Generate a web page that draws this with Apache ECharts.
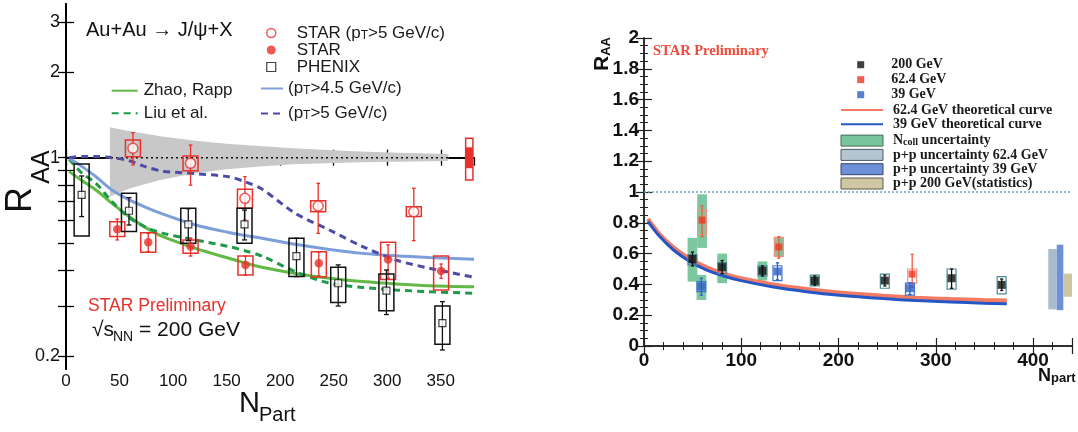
<!DOCTYPE html>
<html>
<head>
<meta charset="utf-8">
<title>J/psi R_AA vs N_part</title>
<script src="https://cdn.jsdelivr.net/npm/echarts@6/dist/echarts.min.js"></script>
<style>
  html, body { margin: 0; padding: 0; background: #fff; }
  #chart { width: 1078px; height: 432px; }
</style>
</head>
<body>
<div id="chart"></div>
<script type="text/javascript">

// ---- left panel: Au+Au 200 GeV, log scale in R_AA ----
var raaTicks = [0.2, 0.3, 0.4, 0.5, 0.6, 0.7, 0.8, 0.9, 1, 2, 3];
var raaLabels = [0.2, 1, 2, 3];

var bandN  = [41, 60, 88, 119, 150, 181, 212, 244, 275, 310, 357];
var bandHi = [1.28, 1.24, 1.19, 1.15, 1.12, 1.10, 1.08, 1.065, 1.052, 1.04, 1.03];
var bandLo = [0.73, 0.78, 0.835, 0.88, 0.91, 0.93, 0.948, 0.956, 0.963, 0.968, 0.973];

var unityN = [0, 381];
var unityR = [1, 1];

var curveN       = [3, 15, 28, 43, 59, 74, 90, 121, 152, 167, 183, 214, 246, 277, 308, 339, 381];
var zhaoRapp     = [0.893, 0.83, 0.769, 0.69, 0.62, 0.568, 0.528, 0.479, 0.442, 0.426, 0.411, 0.391, 0.376, 0.366, 0.359, 0.354, 0.351];
var liuEtAl      = [0.987, 0.881, 0.812, 0.70, 0.615, 0.57, 0.542, 0.513, 0.486, 0.47, 0.45, 0.397, 0.361, 0.349, 0.342, 0.337, 0.333];
var highPt45     = [0.995, 0.93, 0.857, 0.769, 0.71, 0.67, 0.634, 0.579, 0.545, 0.532, 0.52, 0.495, 0.475, 0.46, 0.451, 0.445, 0.439];
var highPt5      = [1.0, 1.01, 1.01, 1.0, 0.975, 0.93, 0.897, 0.878, 0.857, 0.823, 0.775, 0.637, 0.556, 0.486, 0.436, 0.408, 0.379];

var starHiN     = [62.5, 116.3, 167.1, 235.5, 324.8];
var starHiR     = [1.079, 0.955, 0.719, 0.675, 0.645];
var starHiErrLo = [0.943, 0.80, 0.603, 0.541, 0.51];
var starHiErrHi = [1.225, 1.108, 0.857, 0.812, 0.78];
var starHiSysLo = [1.008, 0.90, 0.663, 0.645, 0.62];
var starHiSysHi = [1.154, 1.014, 0.774, 0.705, 0.672];

var starN     = [47.9, 76.8, 116.3, 167.6, 236.1, 300.8, 350.3];
var starR     = [0.56, 0.503, 0.486, 0.419, 0.425, 0.438, 0.399];
var starErrLo = [0.513, 0.466, 0.45, 0.386, 0.383, 0.376, 0.376];
var starErrHi = [0.608, 0.541, 0.52, 0.45, 0.466, 0.493, 0.422];
var starSysLo = [0.527, 0.464, 0.46, 0.386, 0.38, 0.372, 0.342];
var starSysHi = [0.595, 0.544, 0.513, 0.45, 0.466, 0.503, 0.45];

var phenixN     = [14.6, 58.8, 114.2, 166.7, 215.2, 254.2, 299.2, 351.5];
var phenixR     = [0.739, 0.65, 0.582, 0.582, 0.45, 0.361, 0.34, 0.261];
var phenixErrLo = [0.62, 0.579, 0.51, 0.513, 0.381, 0.30, 0.28, 0.21];
var phenixErrHi = [0.862, 0.723, 0.661, 0.654, 0.52, 0.419, 0.402, 0.311];
var phenixSysLo = [0.53, 0.549, 0.499, 0.499, 0.381, 0.309, 0.289, 0.22];
var phenixSysHi = [0.95, 0.749, 0.663, 0.663, 0.52, 0.411, 0.389, 0.30];

// global normalisation box at the right edge
var globN = [376.6];
var globInnerLo = [0.918], globInnerHi = [1.088];
var globOuterLo = [0.834], globOuterHi = [1.17];

// ---- right panel: 200 / 62.4 / 39 GeV, linear ----
var rUnityN = [0, 440];
var rUnityR = [1, 1];

var thN    = [4, 16, 30, 47, 64, 81, 98.5, 133, 167, 201, 246, 280, 315, 349, 373];
var th62   = [0.825, 0.727, 0.642, 0.567, 0.512, 0.472, 0.442, 0.40, 0.37, 0.347, 0.326, 0.314, 0.305, 0.298, 0.295];
var th39   = [0.81, 0.712, 0.625, 0.549, 0.495, 0.456, 0.426, 0.383, 0.353, 0.330, 0.308, 0.295, 0.286, 0.278, 0.274];

var n200     = [49.8, 80.3, 121.8, 175.6, 247.6, 316.2, 367.7];
var r200     = [0.565, 0.512, 0.488, 0.423, 0.425, 0.44, 0.397];
var err200Lo = [0.52, 0.47, 0.455, 0.395, 0.39, 0.375, 0.36];
var err200Hi = [0.61, 0.555, 0.52, 0.455, 0.46, 0.50, 0.435];
var sys200Lo = [0.527, 0.469, 0.455, 0.39, 0.375, 0.369, 0.338];
var sys200Hi = [0.593, 0.542, 0.52, 0.46, 0.467, 0.50, 0.451];

var n62     = [59.7, 138.6, 275.7];
var r62     = [0.817, 0.643, 0.467];
var err62Lo = [0.71, 0.57, 0.38];
var err62Hi = [0.91, 0.71, 0.595];
var sys62Lo = [0.724, 0.582, 0.408];
var sys62Hi = [0.882, 0.706, 0.50];

var n39     = [59, 137.2, 273.4];
var r39     = [0.386, 0.484, 0.375];
var err39Lo = [0.33, 0.43, 0.335];
var err39Hi = [0.44, 0.54, 0.41];
var sys39Lo = [0.353, 0.425, 0.331];
var sys39Hi = [0.418, 0.521, 0.408];

var ncollN  = [49.8, 59.7, 59, 80.3, 121.8, 138.6, 175.6];
var ncollLo = [0.418, 0.637, 0.299, 0.408, 0.425, 0.58, 0.395];
var ncollHi = [0.702, 0.985, 0.462, 0.60, 0.549, 0.706, 0.455];

var pp62N = [415.6, 424.3], pp62R = [0.238, 0.63];
var pp39N = [424.3, 431.1], pp39R = [0.233, 0.658];
var pp200N = [431.1, 440], pp200R = [0.32, 0.47];

// ---- helpers ----
var SANS = '"Liberation Sans", Arial, sans-serif';
var SERIF = '"Liberation Serif", "Times New Roman", serif';
var RED = '#e8302a';
var NOSYM = { color: 'rgba(0,0,0,0)', borderWidth: 0 };   // hides the dot that line legends draw

function lg(v) { return Math.log10(v); }
function same(v) { return v; }

function pts(nArr, rArr, f) {
  return nArr.map(function (n, i) { return [n, f(rArr[i])]; });
}
function errRows(nArr, r, eLo, eHi, sLo, sHi, f) {
  return nArr.map(function (n, i) {
    return [n, f(r[i]), f(eLo[i]), f(eHi[i]), f(sLo[i]), f(sHi[i])];
  });
}

function errBoxRender(halfW, boxColor, barColor, boxW, capPx) {
  return function (params, api) {
    var n = api.value(0);
    var c = api.coord([n, api.value(1)]);
    var lo = api.coord([n, api.value(2)]);
    var hi = api.coord([n, api.value(3)]);
    var b0 = api.coord([n - halfW, api.value(5)]);
    var b1 = api.coord([n + halfW, api.value(4)]);
    var bar = { stroke: barColor, lineWidth: 1.3 };
    return {
      type: 'group',
      children: [
        { type: 'rect', shape: { x: b0[0], y: b0[1], width: b1[0] - b0[0], height: b1[1] - b0[1] },
          style: { fill: 'none', stroke: boxColor, lineWidth: boxW } },
        { type: 'line', shape: { x1: c[0], y1: hi[1], x2: c[0], y2: lo[1] }, style: bar },
        { type: 'line', shape: { x1: c[0] - capPx, y1: hi[1], x2: c[0] + capPx, y2: hi[1] }, style: bar },
        { type: 'line', shape: { x1: c[0] - capPx, y1: lo[1], x2: c[0] + capPx, y2: lo[1] }, style: bar }
      ]
    };
  };
}

function rectRender(fill, stroke) {
  return function (params, api) {
    var p0 = api.coord([api.value(0), api.value(3)]);
    var p1 = api.coord([api.value(1), api.value(2)]);
    return {
      type: 'rect',
      shape: { x: p0[0], y: p0[1], width: p1[0] - p0[0], height: p1[1] - p0[1] },
      style: { fill: fill, stroke: stroke || 'none', lineWidth: stroke ? 1 : 0 }
    };
  };
}

function fmtName(name) {
  return name.replace('p_T', 'p{t|T}').replace('N_coll', 'N{c|coll}');
}

function label(txt, x, y, size, extra) {
  var st = { text: txt, fontFamily: SANS, fontSize: size, fill: '#111', verticalAlign: 'middle' };
  for (var k in (extra || {})) st[k] = extra[k];
  return { type: 'text', x: x, y: y, silent: true, style: st };
}

var chart = echarts.init(document.getElementById('chart'));

var frameL = { show: true, lineStyle: { color: '#000', width: 2 } };
var frameR = { show: true, lineStyle: { color: '#222', width: 1.5 } };
var tickL = { show: true, inside: true, length: 8, lineStyle: { color: '#000', width: 1.3 } };
var tickR = { show: true, inside: true, length: 8, lineStyle: { color: '#222', width: 1.2 } };
var logTicks = raaTicks.map(lg);
var logLabels = raaLabels.map(lg);
var subT = { fontFamily: SANS, fontSize: 12, lineHeight: 7, padding: [10, 0, 0, 0], verticalAlign: 'bottom', color: '#1a1a1a' };

var option = {
  animation: false,
  backgroundColor: '#fff',
  grid: [
    { left: 66, top: 4, width: 408, height: 365, outerBoundsMode: 'none' },
    { left: 644, top: 38, width: 428, height: 308, outerBoundsMode: 'none' }
  ],
  xAxis: [
    { gridIndex: 0, type: 'value', min: 0, max: 381, interval: 50, position: 'bottom',
      axisLine: frameL, axisTick: tickL, splitLine: { show: false },
      axisLabel: { fontFamily: SANS, fontSize: 17, color: '#111', margin: 4, showMaxLabel: false } },
    { gridIndex: 0, type: 'value', min: 0, max: 381, interval: 50, position: 'top',
      axisLine: frameL, axisTick: tickL, splitLine: { show: false }, axisLabel: { show: false } },
    { gridIndex: 1, type: 'value', min: 0, max: 440, interval: 100, position: 'bottom',
      axisLine: frameR, axisTick: tickR, splitLine: { show: false },
      minorTick: { show: true, splitNumber: 5, length: 4, lineStyle: { color: '#222', width: 1 } },
      axisLabel: { fontFamily: SANS, fontWeight: 'bold', fontSize: 19, color: '#111', margin: 5, showMaxLabel: false } },
    { gridIndex: 1, type: 'value', min: 0, max: 440, interval: 100, position: 'top',
      axisLine: frameR, axisTick: tickR, splitLine: { show: false },
      minorTick: { show: true, splitNumber: 5, length: 4, lineStyle: { color: '#222', width: 1 } },
      axisLabel: { show: false } }
  ],
  yAxis: [
    { gridIndex: 0, type: 'value', min: lg(0.18), max: lg(3.48), position: 'left',
      axisLine: frameL, splitLine: { show: false },
      axisTick: { show: true, inside: true, length: 8, lineStyle: { color: '#000', width: 1.3 }, customValues: logTicks },
      axisLabel: { fontFamily: SANS, fontSize: 18, color: '#111', margin: 6, customValues: logLabels,
        formatter: function (v) { return String(Math.round(Math.pow(10, v) * 10) / 10); } } },
    { gridIndex: 0, type: 'value', min: lg(0.18), max: lg(3.48), position: 'right',
      axisLine: frameL, splitLine: { show: false }, axisLabel: { show: false },
      axisTick: { show: true, inside: true, length: 8, lineStyle: { color: '#000', width: 1.3 }, customValues: logTicks } },
    { gridIndex: 1, type: 'value', min: 0, max: 2, interval: 0.2, position: 'left',
      axisLine: frameR, axisTick: tickR, splitLine: { show: false },
      minorTick: { show: true, splitNumber: 4, length: 4, lineStyle: { color: '#222', width: 1 } },
      axisLabel: { fontFamily: SANS, fontWeight: 'bold', fontSize: 19, color: '#111', margin: 5 } },
    { gridIndex: 1, type: 'value', min: 0, max: 2, interval: 0.2, position: 'right',
      axisLine: frameR, axisTick: tickR, splitLine: { show: false },
      minorTick: { show: true, splitNumber: 4, length: 4, lineStyle: { color: '#222', width: 1 } },
      axisLabel: { show: false } }
  ],
  legend: [
    { left: 266, top: 19.5, padding: 0, orient: 'vertical', itemWidth: 9, itemHeight: 9, itemGap: 0, selectedMode: false,
      formatter: fmtName,
      textStyle: { fontFamily: SANS, fontSize: 17, color: '#1a1a1a', lineHeight: 17, padding: [0, 0, 0, 16], rich: { t: subT } },
      data: [
        { name: 'STAR (p_T>5 GeV/c)', icon: 'circle', itemStyle: { color: '#fff', borderColor: RED, borderWidth: 1.5 } },
        { name: 'STAR', icon: 'circle', itemStyle: { color: RED, borderWidth: 0 } },
        { name: 'PHENIX', icon: 'rect', itemStyle: { color: '#fff', borderColor: '#111', borderWidth: 1.2 } }
      ] },
    { left: 110.7, top: 82.2, padding: 0, orient: 'vertical', itemWidth: 26, itemHeight: 10, itemGap: 5.6, selectedMode: false,
      itemStyle: NOSYM,
      textStyle: { fontFamily: SANS, fontSize: 17, color: '#1a1a1a', lineHeight: 17, padding: [0, 0, 0, 1] },
      data: ['Zhao, Rapp', 'Liu et al.'] },
    { left: 260, top: 75, padding: 0, orient: 'vertical', itemWidth: 22, itemHeight: 10, itemGap: 3, selectedMode: false,
      itemStyle: NOSYM,
      formatter: fmtName,
      textStyle: { fontFamily: SANS, fontSize: 17, color: '#1a1a1a', lineHeight: 17, rich: { t: subT } },
      data: ['(p_T>4.5 GeV/c)', '(p_T>5 GeV/c)'] },
    { left: 857.2, top: 57.2, padding: 0, orient: 'vertical', itemWidth: 7, itemHeight: 7, itemGap: 0, selectedMode: false,
      textStyle: { fontFamily: SERIF, fontWeight: 'bold', fontSize: 14, color: '#1a1a1a', lineHeight: 15, padding: [0, 0, 0, 22] },
      data: [
        { name: '200 GeV', icon: 'rect', itemStyle: { color: '#111', borderWidth: 0 } },
        { name: '62.4 GeV', icon: 'rect', itemStyle: { color: '#f2361f', borderWidth: 0 } },
        { name: '39 GeV', icon: 'rect', itemStyle: { color: '#2f5fc4', borderWidth: 0 } }
      ] },
    { left: 840, top: 103, padding: 0, orient: 'vertical', itemWidth: 42, itemHeight: 11, itemGap: 0.3, selectedMode: false,
      formatter: fmtName,
      textStyle: { fontFamily: SERIF, fontWeight: 'bold', fontSize: 14, color: '#1a1a1a', lineHeight: 14, padding: [0, 0, 0, 5],
        rich: { c: { fontFamily: SERIF, fontWeight: 'bold', fontSize: 10, lineHeight: 8, padding: [6, 0, 0, 0], verticalAlign: 'bottom', color: '#1a1a1a' } } },
      data: [
        { name: '62.4 GeV theoretical curve', itemStyle: NOSYM },
        { name: '39 GeV theoretical curve', itemStyle: NOSYM },
        { name: 'N_coll uncertainty', icon: 'rect', itemStyle: { color: '#78c49c', borderColor: '#4a6a5a', borderWidth: 1 } },
        { name: 'p+p uncertainty 62.4 GeV', icon: 'rect', itemStyle: { color: '#b3c5d1', borderColor: '#4a5a6a', borderWidth: 1 } },
        { name: 'p+p uncertainty 39 GeV', icon: 'rect', itemStyle: { color: '#6f8fd8', borderColor: '#34466a', borderWidth: 1 } },
        { name: 'p+p 200 GeV(statistics)', icon: 'rect', itemStyle: { color: '#cfc8a2', borderColor: '#5a5a4a', borderWidth: 1 } }
      ] }
  ],
  graphic: [
    // left axis titles, R_AA rotated, N_Part below
    { type: 'text', x: 21, y: 200, rotation: Math.PI / 2, silent: true,
      style: { text: 'R', fontFamily: SANS, fontSize: 36, fill: '#111', align: 'center', verticalAlign: 'middle' } },
    { type: 'text', x: 42, y: 167, rotation: Math.PI / 2, silent: true,
      style: { text: 'AA', fontFamily: SANS, fontSize: 25, fill: '#111', align: 'center', verticalAlign: 'middle' } },
    label('N', 239, 404, 29),
    label('Part', 259, 415, 20),
    label('Au+Au \u2192 J/\u03c8+X', 86, 30, 20),
    label('STAR Preliminary', 88, 306, 17.5, { fill: RED }),
    label('\u221as', 92, 330, 21),
    label('NN', 113, 337, 14),
    label('= 200 GeV', 139, 330, 21),
    { type: 'text', x: 653, y: 51, silent: true,
      style: { text: 'STAR Preliminary', fontFamily: SERIF, fontWeight: 'bold', fontSize: 14.5, fill: '#ef4a3a', verticalAlign: 'middle' } },
    { type: 'text', x: 602, y: 54, rotation: Math.PI / 2, silent: true,
      style: { text: 'R{a|AA}', fontFamily: SANS, fontWeight: 'bold', fontSize: 21, fill: '#111', align: 'center', verticalAlign: 'middle',
        rich: { a: { fontFamily: SANS, fontWeight: 'bold', fontSize: 13, lineHeight: 13, padding: [9, 0, 0, 0], verticalAlign: 'bottom', fill: '#111' } } } },
    { type: 'text', x: 1038, y: 376, silent: true,
      style: { text: 'N{p|part}', fontFamily: SANS, fontWeight: 'bold', fontSize: 18, fill: '#111', verticalAlign: 'middle',
        rich: { p: { fontFamily: SANS, fontWeight: 'bold', fontSize: 13, lineHeight: 13, padding: [9, 0, 0, 0], verticalAlign: 'bottom', fill: '#111' } } } }
  ],
  series: [
    // left panel
    { type: 'custom', name: 'band', xAxisIndex: 0, yAxisIndex: 0, silent: true, z: 1, data: [0],
      renderItem: function (params, api) {
        var p = [], i;
        for (i = 0; i < bandN.length; i++) p.push(api.coord([bandN[i], lg(bandHi[i])]));
        for (i = bandN.length - 1; i >= 0; i--) p.push(api.coord([bandN[i], lg(bandLo[i])]));
        return { type: 'polygon', shape: { points: p }, style: { fill: '#c8c8c8' } };
      } },
    { type: 'line', name: 'unity', xAxisIndex: 0, yAxisIndex: 0, silent: true, symbol: 'none', z: 2,
      lineStyle: { color: '#111', width: 1.5, type: [2, 3] }, data: pts(unityN, unityR, lg) },
    { type: 'line', name: 'Zhao, Rapp', xAxisIndex: 0, yAxisIndex: 0, silent: true, symbol: 'none', smooth: 0.3, z: 3,
      lineStyle: { color: '#62b946', width: 3 }, data: pts(curveN, zhaoRapp, lg) },
    { type: 'line', name: 'Liu et al.', xAxisIndex: 0, yAxisIndex: 0, silent: true, symbol: 'none', smooth: 0.3, z: 3,
      lineStyle: { color: '#1f9a4a', width: 3, type: [7, 5] }, data: pts(curveN, liuEtAl, lg) },
    { type: 'line', name: '(p_T>4.5 GeV/c)', xAxisIndex: 0, yAxisIndex: 0, silent: true, symbol: 'none', smooth: 0.3, z: 3,
      lineStyle: { color: '#7c9fd9', width: 3 }, data: pts(curveN, highPt45, lg) },
    { type: 'line', name: '(p_T>5 GeV/c)', xAxisIndex: 0, yAxisIndex: 0, silent: true, symbol: 'none', smooth: 0.3, z: 3,
      lineStyle: { color: '#4c4ca8', width: 3, type: [7, 5] }, data: pts(curveN, highPt5, lg) },
    { type: 'custom', name: 'starHiSys', xAxisIndex: 0, yAxisIndex: 0, silent: true, z: 4,
      renderItem: errBoxRender(7, RED, RED, 1.5, 1.8),
      data: errRows(starHiN, starHiR, starHiErrLo, starHiErrHi, starHiSysLo, starHiSysHi, lg) },
    { type: 'custom', name: 'starSys', xAxisIndex: 0, yAxisIndex: 0, silent: true, z: 4,
      renderItem: errBoxRender(7, RED, RED, 1.5, 1.8),
      data: errRows(starN, starR, starErrLo, starErrHi, starSysLo, starSysHi, lg) },
    { type: 'custom', name: 'phenixSys', xAxisIndex: 0, yAxisIndex: 0, silent: true, z: 4,
      renderItem: errBoxRender(7, '#111', '#111', 1.5, 2.5),
      data: errRows(phenixN, phenixR, phenixErrLo, phenixErrHi, phenixSysLo, phenixSysHi, lg) },
    { type: 'custom', name: 'global', xAxisIndex: 0, yAxisIndex: 0, silent: true, z: 4, clip: true,
      data: globN.map(function (n, i) { return [n, lg(globInnerLo[i]), lg(globInnerHi[i]), lg(globOuterLo[i]), lg(globOuterHi[i])]; }),
      renderItem: function (params, api) {
        var n = api.value(0);
        var i0 = api.coord([n - 3.4, api.value(2)]), i1 = api.coord([n + 3.4, api.value(1)]);
        var o0 = api.coord([n - 3.4, api.value(4)]), o1 = api.coord([n + 3.4, api.value(3)]);
        return { type: 'group', children: [
          { type: 'rect', shape: { x: o0[0], y: o0[1], width: o1[0] - o0[0], height: o1[1] - o0[1] }, style: { fill: '#fff', stroke: RED, lineWidth: 1.5 } },
          { type: 'rect', shape: { x: i0[0], y: i0[1], width: i1[0] - i0[0], height: i1[1] - i0[1] }, style: { fill: RED } }
        ] };
      } },
    { type: 'scatter', name: 'STAR (p_T>5 GeV/c)', xAxisIndex: 0, yAxisIndex: 0, silent: true, z: 5,
      symbol: 'circle', symbolSize: 10, itemStyle: { color: '#fff', borderColor: RED, borderWidth: 1.5 },
      data: pts(starHiN, starHiR, lg) },
    { type: 'scatter', name: 'STAR', xAxisIndex: 0, yAxisIndex: 0, silent: true, z: 5,
      symbol: 'circle', symbolSize: 8.5, itemStyle: { color: RED },
      data: pts(starN, starR, lg) },
    { type: 'scatter', name: 'PHENIX', xAxisIndex: 0, yAxisIndex: 0, silent: true, z: 5,
      symbol: 'rect', symbolSize: 7, itemStyle: { color: '#fff', borderColor: '#111', borderWidth: 1.2 },
      data: pts(phenixN, phenixR, lg) },

    // right panel
    { type: 'line', name: 'rUnity', xAxisIndex: 2, yAxisIndex: 2, silent: true, symbol: 'none', z: 2,
      lineStyle: { color: '#6fa8c0', width: 1.5, type: [2, 2] }, data: pts(rUnityN, rUnityR, same) },
    { type: 'custom', name: 'N_coll uncertainty', xAxisIndex: 2, yAxisIndex: 2, silent: true, z: 2,
      encode: { x: [0, 1], y: [2, 3] }, renderItem: rectRender('#7cc7a0'),
      data: ncollN.map(function (n, i) { return [n - 5, n + 5, ncollLo[i], ncollHi[i]]; }) },
    { type: 'custom', name: 'p+p uncertainty 62.4 GeV', xAxisIndex: 2, yAxisIndex: 2, silent: true, z: 2,
      encode: { x: [0, 1], y: [2, 3] }, renderItem: rectRender('#a9bccb'),
      data: [[pp62N[0], pp62N[1], pp62R[0], pp62R[1]]] },
    { type: 'custom', name: 'p+p uncertainty 39 GeV', xAxisIndex: 2, yAxisIndex: 2, silent: true, z: 2,
      encode: { x: [0, 1], y: [2, 3] }, renderItem: rectRender('#6f8fd8'),
      data: [[pp39N[0], pp39N[1], pp39R[0], pp39R[1]]] },
    { type: 'custom', name: 'p+p 200 GeV(statistics)', xAxisIndex: 2, yAxisIndex: 2, silent: true, z: 2,
      encode: { x: [0, 1], y: [2, 3] }, renderItem: rectRender('#cdc6a0'),
      data: [[pp200N[0], pp200N[1], pp200R[0], pp200R[1]]] },
    { type: 'line', name: '62.4 GeV theoretical curve', xAxisIndex: 2, yAxisIndex: 2, silent: true, symbol: 'none', smooth: 0.3, z: 3,
      lineStyle: { color: '#f37a63', width: 4 }, data: pts(thN, th62, same) },
    { type: 'line', name: '39 GeV theoretical curve', xAxisIndex: 2, yAxisIndex: 2, silent: true, symbol: 'none', smooth: 0.3, z: 3,
      lineStyle: { color: '#2456c6', width: 3 }, data: pts(thN, th39, same) },
    { type: 'custom', name: 'sys200', xAxisIndex: 2, yAxisIndex: 2, silent: true, z: 4,
      renderItem: errBoxRender(4.6, '#4f8a96', '#111', 1.2, 1.6),
      data: errRows(n200, r200, err200Lo, err200Hi, sys200Lo, sys200Hi, same) },
    { type: 'custom', name: 'sys62', xAxisIndex: 2, yAxisIndex: 2, silent: true, z: 4,
      renderItem: errBoxRender(4.6, '#f3917c', '#f05a40', 1.2, 1.6),
      data: errRows(n62, r62, err62Lo, err62Hi, sys62Lo, sys62Hi, same) },
    { type: 'custom', name: 'sys39', xAxisIndex: 2, yAxisIndex: 2, silent: true, z: 4,
      renderItem: errBoxRender(4.6, '#3f74d0', '#2f5fc4', 1.2, 1.6),
      data: errRows(n39, r39, err39Lo, err39Hi, sys39Lo, sys39Hi, same) },
    { type: 'scatter', name: '200 GeV', xAxisIndex: 2, yAxisIndex: 2, silent: true, z: 5,
      symbol: 'rect', symbolSize: 8, itemStyle: { color: '#111' }, data: pts(n200, r200, same) },
    { type: 'scatter', name: '62.4 GeV', xAxisIndex: 2, yAxisIndex: 2, silent: true, z: 5,
      symbol: 'rect', symbolSize: 7, itemStyle: { color: '#f2361f' }, data: pts(n62, r62, same) },
    { type: 'scatter', name: '39 GeV', xAxisIndex: 2, yAxisIndex: 2, silent: true, z: 5,
      symbol: 'rect', symbolSize: 8, itemStyle: { color: '#2f5fc4' }, data: pts(n39, r39, same) }
  ]
};

chart.setOption(option);
</script>
</body>
</html>
